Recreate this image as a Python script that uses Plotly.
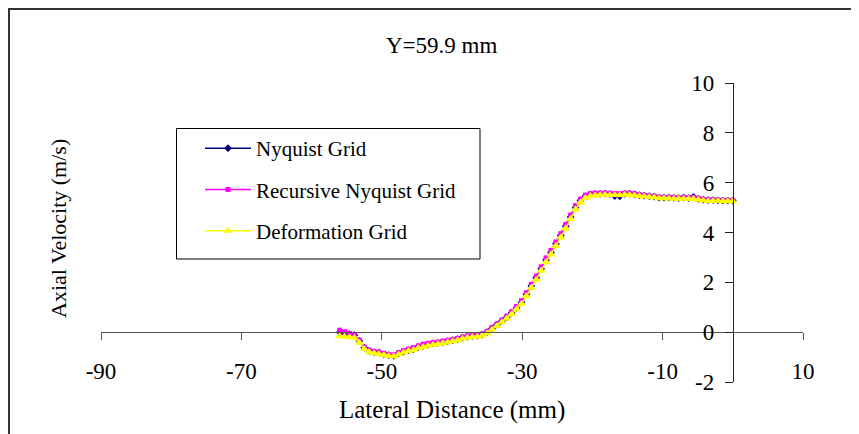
import plotly.graph_objects as go

# ---- data ----
x_mm = [-56.0, -55.3, -54.6, -53.9, -53.2, -52.5, -51.8, -51.1, -50.4, -49.7,
        -49.0, -48.3, -47.6, -46.9, -46.2, -45.5, -44.8, -44.1, -43.4, -42.7,
        -42.0, -41.3, -40.6, -39.9, -39.2, -38.5, -37.8, -37.1, -36.4, -35.7,
        -35.0, -34.3, -33.6, -32.9, -32.2, -31.5, -30.8, -30.1, -29.4, -28.7,
        -28.0, -27.3, -26.6, -25.9, -25.2, -24.5, -23.8, -23.1, -22.4, -21.7,
        -21.0, -20.3, -19.6, -18.9, -18.2, -17.5, -16.8, -16.1, -15.4, -14.7,
        -14.0, -13.3, -12.6, -11.9, -11.2, -10.5, -9.8, -9.1, -8.4, -7.7,
        -7.0, -6.3, -5.6, -4.9, -4.2, -3.5, -2.8, -2.1, -1.4, -0.7, 0.0]

nyquist = [0.00, -0.05, -0.08, -0.12, -0.35, -0.62, -0.75, -0.80, -0.82, -0.88,
           -0.92, -0.95, -0.85, -0.78, -0.72, -0.68, -0.60, -0.55, -0.50, -0.45,
           -0.43, -0.40, -0.36, -0.32, -0.28, -0.22, -0.18, -0.15, -0.14, -0.10,
           0.00, 0.15, 0.30, 0.45, 0.60, 0.78, 0.98, 1.20, 1.52, 1.85,
           2.18, 2.55, 2.90, 3.20, 3.55, 3.88, 4.25, 4.62, 5.00, 5.28,
           5.45, 5.52, 5.55, 5.55, 5.56, 5.55, 5.46, 5.45, 5.55, 5.56,
           5.54, 5.50, 5.48, 5.46, 5.44, 5.40, 5.40, 5.40, 5.39, 5.38,
           5.40, 5.38, 5.43, 5.35, 5.32, 5.30, 5.30, 5.29, 5.28, 5.28, 5.28]

recursive = [0.08, 0.02, -0.05, -0.10, -0.32, -0.60, -0.72, -0.78, -0.80, -0.85,
             -0.90, -0.92, -0.82, -0.74, -0.68, -0.62, -0.55, -0.48, -0.45, -0.42,
             -0.40, -0.36, -0.33, -0.30, -0.25, -0.20, -0.16, -0.13, -0.12, -0.08,
             0.03, 0.18, 0.33, 0.48, 0.64, 0.82, 1.03, 1.26, 1.58, 1.92,
             2.25, 2.62, 2.98, 3.28, 3.62, 3.95, 4.32, 4.70, 5.08, 5.34,
             5.50, 5.56, 5.58, 5.58, 5.58, 5.57, 5.57, 5.56, 5.58, 5.57,
             5.55, 5.52, 5.49, 5.47, 5.45, 5.42, 5.41, 5.41, 5.40, 5.39,
             5.39, 5.40, 5.40, 5.37, 5.33, 5.31, 5.31, 5.30, 5.29, 5.29, 5.29]

deformation = [-0.15, -0.18, -0.20, -0.22, -0.42, -0.68, -0.80, -0.85, -0.88, -0.92,
               -0.96, -0.98, -0.90, -0.82, -0.76, -0.72, -0.64, -0.60, -0.55, -0.50,
               -0.47, -0.44, -0.40, -0.36, -0.32, -0.26, -0.22, -0.19, -0.18, -0.14,
               -0.05, 0.10, 0.25, 0.40, 0.55, 0.72, 0.92, 1.14, 1.45, 1.78,
               2.10, 2.46, 2.82, 3.12, 3.46, 3.80, 4.16, 4.54, 4.92, 5.20,
               5.38, 5.46, 5.50, 5.51, 5.52, 5.51, 5.51, 5.50, 5.52, 5.51,
               5.49, 5.46, 5.44, 5.42, 5.40, 5.37, 5.37, 5.36, 5.35, 5.35,
               5.35, 5.34, 5.34, 5.31, 5.28, 5.26, 5.26, 5.26, 5.25, 5.25, 5.25]

x_ticks = [-90, -70, -50, -30, -10, 10]
y_ticks = [-2, 0, 2, 4, 6, 8, 10]

FONT = "Liberation Serif, Times New Roman, serif"

fig = go.Figure()
fig.add_trace(go.Scatter(x=x_mm, y=nyquist, mode="lines+markers", name="Nyquist Grid",
                         legendgroup="a",
                         line=dict(color="#000080", width=1.5),
                         marker=dict(symbol="diamond", size=6, color="#000080")))
fig.add_trace(go.Scatter(x=x_mm, y=recursive, mode="lines+markers", name="Recursive Nyquist Grid",
                         legendgroup="b",
                         line=dict(color="#FF00FF", width=1.5),
                         marker=dict(symbol="square", size=5, color="#FF00FF")))
fig.add_trace(go.Scatter(x=x_mm, y=deformation, mode="lines+markers", name="Deformation Grid",
                         legendgroup="c",
                         line=dict(color="#FFFF00", width=1.5),
                         marker=dict(symbol="triangle-up", size=8, color="#FFFF00")))

# page body has an 8px margin: the figure starts at window (8, 8)
OFF = 8
W, H = 859 - OFF, 434 - OFF
L = 101 - OFF
T = 83 - OFF
R = W - (803 - OFF)
B = H - (382 - OFF)
pw, ph = W - L - R, H - T - B


def px(xw):
    return (xw - OFF - L) / pw


def py(yw):
    return (H - B - (yw - OFF)) / ph


fig.update_layout(
    template="none",
    width=W, height=H,
    margin=dict(l=L, r=R, t=T, b=B, autoexpand=False),
    paper_bgcolor="white", plot_bgcolor="white",
    font=dict(family=FONT, size=21, color="black"),
    showlegend=True,
    legend=dict(x=px(176), y=py(128), xanchor="left", yanchor="top",
                borderwidth=0, bgcolor="rgba(0,0,0,0)",
                font=dict(family=FONT, size=21, color="black"),
                indentation=24, itemwidth=46, tracegroupgap=11, traceorder="grouped"),
    xaxis=dict(range=[-90, 10], tickvals=x_ticks, ticktext=[str(v) for v in x_ticks],
               anchor="free", position=1/6, showline=True, linecolor="#555555", linewidth=1,
               ticks="outside", ticklen=7, tickcolor="#555555", tickwidth=1,
               showgrid=False, zeroline=False, automargin=False,
               tickfont=dict(family=FONT, size=23, color="black"), ticklabelstandoff=11),
    yaxis=dict(range=[-2, 10], tickvals=y_ticks, ticktext=[str(v) for v in y_ticks],
               anchor="free", position=0.9, side="left", showline=True, linecolor="#222222",
               linewidth=1, ticks="outside", ticklen=8, tickcolor="#222222", tickwidth=1,
               showgrid=False, zeroline=False, automargin=False,
               tickfont=dict(family=FONT, size=23, color="black"), ticklabelstandoff=6),
    shapes=[
        dict(type="rect", xref="paper", yref="paper",
             x0=px(9), y0=py(440), x1=px(870), y1=py(9),
             line=dict(color="#333333", width=2), fillcolor="rgba(0,0,0,0)", layer="above"),
        dict(type="rect", xref="paper", yref="paper",
             x0=px(176.5), y0=py(259), x1=px(480), y1=py(128.5),
             line=dict(color="black", width=1), fillcolor="white", layer="below"),
    ],
    annotations=[
        dict(text="Y=59.9 mm", xref="paper", yref="paper", x=px(441), y=py(45),
             showarrow=False, xanchor="center", yanchor="middle",
             font=dict(family=FONT, size=23, color="black")),
        dict(text="Lateral Distance (mm)", xref="paper", yref="paper", x=px(452), y=py(410),
             showarrow=False, xanchor="center", yanchor="middle",
             font=dict(family=FONT, size=25, color="black")),
        dict(text="Axial Velocity (m/s)", xref="paper", yref="paper", x=px(58), y=py(229),
             showarrow=False, xanchor="center", yanchor="middle", textangle=-90,
             font=dict(family=FONT, size=22, color="black")),
    ],
)

fig.write_html("out.html")
